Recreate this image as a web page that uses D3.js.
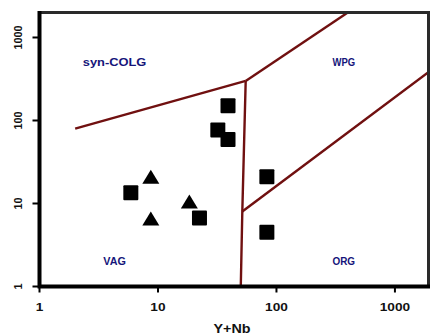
<!DOCTYPE html>
<html>
<head>
<meta charset="utf-8">
<script src="https://cdn.jsdelivr.net/npm/d3@7"></script>
<style>
  body { margin: 0; background: #fff; }
  svg { display: block; }
  text { font-family: 'Liberation Sans', Arial, sans-serif; font-weight: bold; }
</style>
</head>
<body>
<div id="chart"></div>
<script>
// samples (Y+Nb vs Rb)
const squareX = [39, 32, 39, 5.9, 22.4, 83, 83];
const squareY = [150, 77, 59, 13.5, 6.7, 21, 4.5];
const triangleX = [8.7, 18.4, 8.7];
const triangleY = [21, 10.6, 6.6];

// Pearce et al. (1984) field boundaries
const boundaries = [
  [[2, 80], [55, 300]],
  [[55, 300], [400, 2000]],
  [[55, 300], [51.5, 8], [50, 1]],
  [[51.5, 8], [2000, 400]]
];
const fieldNames = ['syn-COLG', 'WPG', 'VAG', 'ORG'];
const fieldX = [4.3, 370, 4.3, 370];
const fieldY = [500, 500, 1.98, 1.98];
const tickValues = [1, 10, 100, 1000];
const xTitle = 'Y+Nb';

const width = 437;
const height = 335;
const plot = { left: 39.5, right: 428.5, top: 12.5, bottom: 286.5 };

const svg = d3.select('#chart')
  .append('svg')
  .attr('width', width)
  .attr('height', height);

const x = d3.scaleLog().domain([1, 1920]).range([plot.left, plot.right]);
const y = d3.scaleLog().domain([1, 2000]).range([plot.bottom, plot.top]);

svg.append('clipPath')
  .attr('id', 'plot-clip')
  .append('rect')
  .attr('x', plot.left)
  .attr('y', plot.top)
  .attr('width', plot.right - plot.left)
  .attr('height', plot.bottom - plot.top);

// boundary lines
const line = d3.line().x(d => x(d[0])).y(d => y(d[1]));
svg.append('g')
  .attr('clip-path', 'url(#plot-clip)')
  .selectAll('path')
  .data(boundaries)
  .enter().append('path')
  .attr('d', line)
  .attr('fill', 'none')
  .attr('stroke', '#701010')
  .attr('stroke-width', 2.4);

// field labels
svg.append('g')
  .selectAll('text')
  .data(fieldNames)
  .enter().append('text')
  .attr('x', (d, i) => x(fieldX[i]))
  .attr('y', (d, i) => y(fieldY[i]))
  .attr('dy', '0.35em')
  .attr('text-anchor', 'middle')
  .attr('font-size', 10)
  .attr('fill', '#15157a')
  .attr('textLength', d => d.length * 8.2 - 2)
  .attr('lengthAdjust', 'spacingAndGlyphs')
  .text(d => d);

// squares
svg.append('g')
  .selectAll('rect')
  .data(squareX)
  .enter().append('rect')
  .attr('x', d => x(d) - 7.5)
  .attr('y', (d, i) => y(squareY[i]) - 7.5)
  .attr('width', 15)
  .attr('height', 15)
  .attr('rx', 1)
  .attr('fill', '#000');

// triangles
svg.append('g')
  .selectAll('path')
  .data(triangleX)
  .enter().append('path')
  .attr('transform', (d, i) => `translate(${x(d)},${y(triangleY[i])})`)
  .attr('d', 'M0,-7L8.5,7L-8.5,7Z')
  .attr('fill', '#000');

// frame
svg.append('path')
  .attr('d', `M${plot.left},${plot.top}H${plot.right}V${plot.bottom}`)
  .attr('fill', 'none')
  .attr('stroke', '#2a2a2a')
  .attr('stroke-width', 3);
svg.append('path')
  .attr('d', `M${plot.left},${plot.top - 1.5}V${plot.bottom}H${plot.right + 1.5}`)
  .attr('fill', 'none')
  .attr('stroke', '#000')
  .attr('stroke-width', 4);

// y axis
svg.append('g')
  .selectAll('line')
  .data(tickValues)
  .enter().append('line')
  .attr('x1', plot.left - 7)
  .attr('x2', plot.left)
  .attr('y1', d => y(d))
  .attr('y2', d => y(d))
  .attr('stroke', '#000')
  .attr('stroke-width', 2);
svg.append('g')
  .selectAll('text')
  .data(tickValues)
  .enter().append('text')
  .attr('transform', d => `translate(22,${y(d)}) rotate(-90)`)
  .attr('text-anchor', 'middle')
  .attr('font-size', 11)
  .attr('fill', '#111')
  .attr('textLength', d => String(d).length * 6)
  .attr('lengthAdjust', 'spacingAndGlyphs')
  .text(d => d);

// x axis
svg.append('g')
  .selectAll('line')
  .data(tickValues)
  .enter().append('line')
  .attr('x1', d => x(d))
  .attr('x2', d => x(d))
  .attr('y1', plot.bottom)
  .attr('y2', plot.bottom + 6)
  .attr('stroke', '#000')
  .attr('stroke-width', 2);
svg.append('g')
  .selectAll('text')
  .data(tickValues)
  .enter().append('text')
  .attr('x', d => x(d))
  .attr('y', 311)
  .attr('text-anchor', 'middle')
  .attr('font-size', 11)
  .attr('fill', '#111')
  .attr('textLength', d => String(d).length * 7.6)
  .attr('lengthAdjust', 'spacingAndGlyphs')
  .text(d => d);

svg.append('text')
  .attr('x', 232)
  .attr('y', 333)
  .attr('text-anchor', 'middle')
  .attr('font-size', 12)
  .attr('fill', '#111')
  .attr('textLength', 37)
  .attr('lengthAdjust', 'spacingAndGlyphs')
  .text(xTitle);
</script>
</body>
</html>
